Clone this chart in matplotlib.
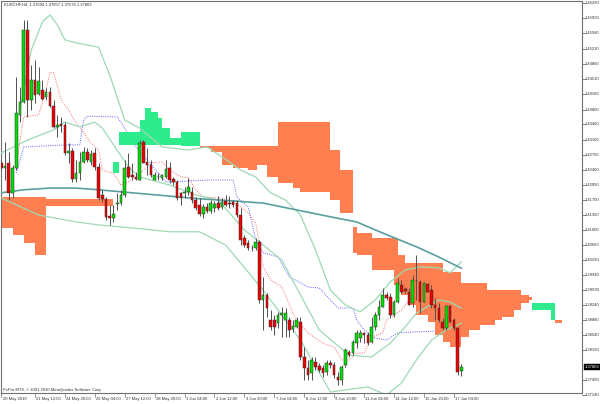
import matplotlib
matplotlib.use('Agg')
import matplotlib.pyplot as plt
import matplotlib.transforms as mtransforms

symbol_text = "EURCHF,H4  1.37694 1.37857 1.37576 1.37803"
copyright_text = "PxPro MT4, \u00a9 2001-2010 MetaQuotes Software Corp."
last_price = 1.37803
last_price_text = "1.37803"

opens = [1.4256, 1.4244, 1.4256, 1.4186, 1.4244, 1.4368, 1.4398, 1.4566, 1.4403, 1.4449,
         1.4417, 1.4426, 1.4410, 1.4421, 1.4389, 1.4340, 1.4347, 1.4344, 1.4279, 1.4284,
         1.4218, 1.4232, 1.4258, 1.4281, 1.4258, 1.4279, 1.4246, 1.4181, 1.4172, 1.4132,
         1.4127, 1.4160, 1.4162, 1.4181, 1.4246, 1.4228, 1.4223, 1.4216, 1.4305, 1.4258,
         1.4251, 1.4216, 1.4223, 1.4221, 1.4223, 1.4244, 1.4218, 1.4211, 1.4186, 1.4186,
         1.4188, 1.4188, 1.4169, 1.4158, 1.4137, 1.4153, 1.4144, 1.4151, 1.4162, 1.4153,
         1.4167, 1.4162, 1.4165, 1.4162, 1.4134, 1.4081, 1.4069, 1.4057, 1.4057, 1.4071,
         1.3936, 1.3948, 1.3889, 1.3889, 1.3882, 1.3901, 1.3889, 1.3889, 1.3868, 1.3873,
         1.3884, 1.3803, 1.3777, 1.3765, 1.3791, 1.3782, 1.3777, 1.3768, 1.3789, 1.3784,
         1.3756, 1.3749, 1.3784, 1.3814, 1.3812, 1.3835, 1.3847, 1.3859, 1.3854, 1.3838,
         1.3873, 1.3901, 1.3919, 1.3948, 1.3943, 1.3901, 1.3931, 1.3971, 1.3961, 1.3955,
         1.3929, 1.3980, 1.3978, 1.3931, 1.3973, 1.3959, 1.3924, 1.3917, 1.3884, 1.3870,
         1.3922, 1.3889, 1.3870, 1.37694]
highs = [1.4263, 1.4305, 1.4281, 1.4251, 1.4456, 1.4433, 1.4589, 1.4589, 1.4484, 1.4496,
         1.4480, 1.4449, 1.4431, 1.4433, 1.4403, 1.4368, 1.4363, 1.4351, 1.4302, 1.4291,
         1.4263, 1.4281, 1.4293, 1.4291, 1.4286, 1.4291, 1.4256, 1.4193, 1.4176, 1.4158,
         1.4158, 1.4186, 1.4193, 1.4263, 1.4279, 1.4256, 1.4235, 1.4309, 1.4309, 1.4291,
         1.4263, 1.4235, 1.4232, 1.4230, 1.4263, 1.4258, 1.4223, 1.4216, 1.4188, 1.4200,
         1.4221, 1.4200, 1.4176, 1.4174, 1.4160, 1.4162, 1.4169, 1.4167, 1.4179, 1.4174,
         1.4181, 1.4179, 1.4169, 1.4169, 1.4151, 1.4088, 1.4076, 1.4064, 1.4081, 1.4076,
         1.3990, 1.3952, 1.3912, 1.3901, 1.3908, 1.3919, 1.3917, 1.3896, 1.3889, 1.3896,
         1.3896, 1.3826, 1.3796, 1.3803, 1.3803, 1.3789, 1.3784, 1.3796, 1.3796, 1.3791,
         1.3768, 1.3784, 1.3824, 1.3819, 1.3842, 1.3866, 1.3866, 1.3861, 1.3861, 1.3896,
         1.3908, 1.3936, 1.3964, 1.3955, 1.3952, 1.3936, 1.3987, 1.3983, 1.3966, 1.3964,
         1.3994, 1.4041, 1.3983, 1.3978, 1.3976, 1.3971, 1.3940, 1.3929, 1.3894, 1.3924,
         1.3924, 1.3894, 1.3873, 1.37857]
lows = [1.4239, 1.4216, 1.4169, 1.4174, 1.4239, 1.4351, 1.4396, 1.4363, 1.4379, 1.4396,
        1.4414, 1.4403, 1.4403, 1.4386, 1.4337, 1.4316, 1.4328, 1.4274, 1.4256, 1.4211,
        1.4211, 1.4216, 1.4256, 1.4258, 1.4251, 1.4239, 1.4169, 1.4165, 1.4123, 1.4111,
        1.4118, 1.4146, 1.4158, 1.4176, 1.4221, 1.4216, 1.4216, 1.4216, 1.4256, 1.4228,
        1.4223, 1.4216, 1.4216, 1.4216, 1.4221, 1.4209, 1.4204, 1.4169, 1.4158, 1.4174,
        1.4181, 1.4162, 1.4146, 1.4132, 1.4127, 1.4139, 1.4139, 1.4141, 1.4146, 1.4148,
        1.4155, 1.4151, 1.4153, 1.4130, 1.4064, 1.4060, 1.4053, 1.4050, 1.4053, 1.3929,
        1.3866, 1.3896, 1.3866, 1.3854, 1.3870, 1.3849, 1.3849, 1.3849, 1.3861, 1.3870,
        1.3796, 1.3749, 1.3749, 1.3749, 1.3772, 1.3768, 1.3756, 1.3761, 1.3777, 1.3754,
        1.3737, 1.3737, 1.3779, 1.3803, 1.3807, 1.3824, 1.3838, 1.3835, 1.3831, 1.3835,
        1.3866, 1.3889, 1.3919, 1.3936, 1.3894, 1.3896, 1.3929, 1.3952, 1.3952, 1.3924,
        1.3919, 1.3936, 1.3905, 1.3931, 1.3955, 1.3917, 1.3889, 1.3884, 1.3866, 1.3866,
        1.3882, 1.3866, 1.3761, 1.37576]
closes = [1.4244, 1.4249, 1.4186, 1.4244, 1.4372, 1.4398, 1.4566, 1.4403, 1.4449, 1.4414,
          1.4447, 1.4405, 1.4421, 1.4389, 1.4340, 1.4344, 1.4342, 1.4279, 1.4284, 1.4218,
          1.4232, 1.4258, 1.4281, 1.4263, 1.4277, 1.4246, 1.4174, 1.4172, 1.4130, 1.4127,
          1.4137, 1.4162, 1.4181, 1.4244, 1.4223, 1.4223, 1.4218, 1.4302, 1.4256, 1.4251,
          1.4228, 1.4228, 1.4223, 1.4228, 1.4242, 1.4216, 1.4211, 1.4174, 1.4174, 1.4188,
          1.4200, 1.4169, 1.4151, 1.4137, 1.4153, 1.4144, 1.4162, 1.4160, 1.4151, 1.4165,
          1.4158, 1.4160, 1.4158, 1.4134, 1.4076, 1.4064, 1.4057, 1.4058, 1.4071, 1.3936,
          1.3948, 1.3917, 1.3873, 1.3873, 1.3901, 1.3905, 1.3905, 1.3866, 1.3875, 1.3889,
          1.3803, 1.3777, 1.3761, 1.3796, 1.3779, 1.3772, 1.3765, 1.3789, 1.3784, 1.3761,
          1.3749, 1.3779, 1.3819, 1.3807, 1.3838, 1.3859, 1.3859, 1.3854, 1.3835, 1.3873,
          1.3901, 1.3919, 1.3948, 1.3940, 1.3901, 1.3931, 1.3976, 1.3955, 1.3957, 1.3924,
          1.3983, 1.3981, 1.3931, 1.3976, 1.3955, 1.3924, 1.3917, 1.3889, 1.3870, 1.3922,
          1.3884, 1.3870, 1.3768, 1.37803]

date_label_bars = [0, 9, 17, 25, 33, 41, 49, 57, 65, 73, 81, 89, 97, 105, 113, 121]
date_labels = ["20 May 2010", "21 May 12:00", "24 May 20:00", "26 May 04:00",
               "27 May 12:00", "28 May 20:00", "1 Jun 04:00", "2 Jun 12:00",
               "3 Jun 20:00", "7 Jun 04:00", "8 Jun 12:00", "9 Jun 20:00",
               "11 Jun 04:00", "14 Jun 12:00", "15 Jun 20:00", "17 Jun 04:00"]

# the 1.37840 level is covered by the last-price box, as in the reference
price_labels = ["1.46290", "1.45930", "1.45580", "1.45210", "1.44860", "1.44510",
                "1.44160", "1.43800", "1.43460", "1.43100", "1.42750", "1.42400",
                "1.42050", "1.41700", "1.41350", "1.41000", "1.40650", "1.40290",
                "1.39940", "1.39590", "1.39240", "1.38880", "1.38540", "1.38190",
                "1.37490", "1.37140"]

# long moving average (teal)
ma_bars = [0, 6, 13, 20, 26, 35, 44, 53, 62, 70, 79, 88, 95, 102, 111, 117, 123]
ma_vals = [1.4186, 1.4193, 1.4197, 1.4197, 1.4193, 1.4186, 1.4179, 1.4172, 1.4167,
           1.4162, 1.4146, 1.4130, 1.4118, 1.4092, 1.4060, 1.4036, 1.4010]

# bands (light green)
upper_bars = [5, 8, 11, 13, 15, 17, 20, 26, 29, 33, 37, 43, 50, 55, 59, 64, 68, 72,
              76, 80, 84, 88, 92, 96, 100, 104, 108, 112, 117, 120, 123]
upper_vals = [1.4379, 1.4519, 1.4585, 1.4601, 1.4578, 1.4543, 1.4536, 1.4526, 1.4461,
              1.4356, 1.4337, 1.4293, 1.4286, 1.4293, 1.4270, 1.4239, 1.4223, 1.4186,
              1.4169, 1.4134, 1.4053, 1.3959, 1.3924, 1.3908, 1.3936, 1.3978, 1.4006,
              1.4013, 1.4011, 1.3999, 1.4025]
middle_bars = [0, 7, 14, 17, 21, 25, 27, 34, 37, 45, 52, 58, 65, 75, 85, 93, 99, 104,
               108, 111, 117, 120, 123]
middle_vals = [1.4279, 1.4309, 1.4333, 1.4351, 1.4340, 1.4351, 1.4337, 1.4246, 1.4223,
               1.4204, 1.4181, 1.4169, 1.4099, 1.4029, 1.3866, 1.3807, 1.3803, 1.3835,
               1.3873, 1.3905, 1.3936, 1.3931, 1.3917]
lower_bars = [0, 10, 20, 26, 35, 45, 53, 60, 70, 80, 88, 98, 103, 107, 111, 115, 119, 123]
lower_vals = [1.4174, 1.4134, 1.4118, 1.4111, 1.4104, 1.4095, 1.4095, 1.4064, 1.3959,
              1.3842, 1.3721, 1.3733, 1.3714, 1.3742, 1.3796, 1.3842, 1.3866, 1.3882]

# Ichimoku tenkan (red dotted) and kijun (blue dotted)
tenkan_bars = [4, 5, 6, 10, 12, 13, 14, 16, 18, 20, 22, 24, 26, 27, 30, 32, 36, 40, 43,
               45, 48, 50, 52, 54, 58, 61, 64, 66, 68, 69, 70, 72, 75, 78, 79, 82, 86,
               89, 91, 93, 95, 97, 99, 102, 103, 107, 110, 115, 120, 123]
tenkan_vals = [1.4239, 1.4309, 1.4363, 1.4368, 1.4426, 1.4468, 1.4466, 1.4403, 1.4379,
               1.4349, 1.4326, 1.4302, 1.4286, 1.4239, 1.4232, 1.4204, 1.4221, 1.4256,
               1.4258, 1.4239, 1.4223, 1.4221, 1.4193, 1.4176, 1.4174, 1.4169, 1.4153,
               1.4139, 1.4116, 1.4069, 1.4013, 1.3983, 1.3966, 1.3905, 1.3889, 1.3859,
               1.3835, 1.3826, 1.3796, 1.3796, 1.3812, 1.3812, 1.3849, 1.3859, 1.3889,
               1.3912, 1.3948, 1.3959, 1.3936, 1.3912]
kijun_bars = [4, 6, 18, 21, 22, 23, 31, 32, 36, 44, 56, 62, 63, 66, 67, 68, 70, 74, 77,
              80, 82, 85, 88, 90, 94, 95, 97, 99, 103, 106, 110, 123]
kijun_vals = [1.4232, 1.4293, 1.4298, 1.4298, 1.4356, 1.4365, 1.4363, 1.4351, 1.4293,
              1.4211, 1.4216, 1.4216, 1.4176, 1.4153, 1.4116, 1.4076, 1.4046, 1.4036,
              1.3990, 1.3976, 1.3966, 1.3964, 1.3936, 1.3917, 1.3917, 1.3889, 1.3866,
              1.3849, 1.3842, 1.3859, 1.3861, 1.3866]

# Ichimoku cloud pieces: start bar, end bar, top, bottom, kind (o = bearish, g = bullish)
cloud_start = [-0.5, 3, 6, 9, 12, 30, 31.5, 37, 38.5, 40, 42, 43, 45, 48,
               53, 56, 59, 62, 66, 68.5, 71, 74, 78, 80, 88, 90.5,
               94, 95, 99, 105, 106, 107, 108, 109, 111, 114, 116, 118, 120, 123,
               125, 128, 130, 132, 134, 137, 139, 141, 142, 147, 148]
cloud_end = [3, 6, 9, 12, 30, 31.5, 37, 38.5, 40, 42, 43, 45, 48, 53,
             56, 59, 62, 66, 68.5, 71, 74, 78, 80, 88, 90.5, 94,
             95, 99, 105, 106, 107, 108, 109, 111, 114, 116, 118, 120, 123, 125,
             128, 130, 132, 134, 137, 139, 141, 142, 147, 148, 150]
cloud_top = [1.4176, 1.4176, 1.4176, 1.4176, 1.4172, 1.4258, 1.4328, 1.4356, 1.4384, 1.4375,
             1.4361, 1.4337, 1.4314, 1.4328,
             1.4295, 1.4295, 1.4295, 1.4295, 1.4295, 1.4295, 1.4295, 1.4351, 1.4351, 1.4351,
             1.4286, 1.4239,
             1.4106, 1.4092, 1.4081, 1.4081, 1.4041, 1.4041, 1.4022, 1.4022, 1.4022, 1.4022,
             1.4022, 1.4001, 1.4001, 1.3976, 1.3976, 1.3976, 1.3959, 1.3959, 1.3959, 1.3959,
             1.3948, 1.3943, 1.3929, 1.3929, 1.3889]
cloud_bot = [1.4104, 1.4088, 1.4069, 1.4041, 1.4155, 1.4232, 1.4298, 1.4298, 1.4298, 1.4298,
             1.4298, 1.4298, 1.4298, 1.4295,
             1.4291, 1.4281, 1.4251, 1.4244, 1.4239, 1.4251, 1.4223, 1.4209, 1.4197, 1.4188,
             1.4169, 1.4139,
             1.4046, 1.4041, 1.4006, 1.3971, 1.3971, 1.3948, 1.3948, 1.3924, 1.3901, 1.3884,
             1.3854, 1.3838, 1.3826, 1.3849, 1.3866, 1.3877, 1.3877, 1.3889, 1.3896, 1.3912,
             1.3929, 1.3936, 1.3912, 1.3889, 1.3882]
cloud_kind = ['o', 'o', 'o', 'o', 'o', 'g', 'g', 'g', 'g', 'g', 'g', 'g', 'g', 'g',
              'o', 'o', 'o', 'o', 'o', 'o', 'o', 'o', 'o', 'o', 'o', 'o',
              'o', 'o', 'o', 'o', 'o', 'o', 'o', 'o', 'o', 'o', 'o', 'o', 'o', 'o',
              'o', 'o', 'o', 'o', 'o', 'o', 'o', 'o', 'g', 'g', 'o']

ORANGE = '#FF7F50'
GREEN_CLOUD = '#2EEB8C'
UP = '#00DD00'
DOWN = '#EE0000'
BAND = '#9ED9B4'
TEAL = '#5A9FA0'
FONT = ['Liberation Sans', 'DejaVu Sans']
FS = 3.0

fig = plt.figure(figsize=(6.0, 4.04), dpi=100)
fig.patch.set_facecolor('white')
ax = fig.add_axes([1 / 600, 11 / 404, 581 / 600, 392 / 404])
ax.set_facecolor('white')
ax.set_xlim(-0.08, 155.27)
ax.set_ylim(1.37187, 1.46337)
ax.set_xticks([])
ax.set_yticks([])
for s in ax.spines.values():
    s.set_color('#707070')
    s.set_linewidth(0.8)

# tenkan / kijun (under the cloud)
ax.plot(tenkan_bars, tenkan_vals, color='#FF7070', lw=0.7, ls=(0, (1, 1.3)), zorder=1)
ax.plot(kijun_bars, kijun_vals, color='#6060FF', lw=0.7, ls=(0, (1, 1.3)), zorder=1)

# cloud
for s0, s1, t, b, k in zip(cloud_start, cloud_end, cloud_top, cloud_bot, cloud_kind):
    ax.bar(s0, t - b, bottom=b, width=s1 - s0, align='edge',
           color=ORANGE if k == 'o' else GREEN_CLOUD, linewidth=0, zorder=2)

# bands and moving average
ax.plot(upper_bars, upper_vals, color=BAND, lw=0.9, zorder=3)
ax.plot(middle_bars, middle_vals, color=BAND, lw=0.9, zorder=3)
ax.plot(lower_bars, lower_vals, color=BAND, lw=0.9, zorder=3)
ax.plot(ma_bars, ma_vals, color=TEAL, lw=1.2, zorder=3)

# candles
idx = list(range(len(closes)))
ax.vlines(idx, lows, highs, color='#505050', lw=0.7, zorder=4)
for i, (o, c) in enumerate(zip(opens, closes)):
    lo, hi = min(o, c), max(o, c)
    h = max(hi - lo, 0.00005)
    col = UP if c >= o else DOWN
    ax.bar(i, h, bottom=lo, width=0.7, color=col, edgecolor='#303030',
           linewidth=0.35, zorder=5)

# right price scale
tr = mtransforms.blended_transform_factory(ax.transAxes, ax.transData)
for lab in price_labels:
    v = float(lab)
    ax.plot([1.0, 1.0045], [v, v], transform=tr, color='#707070', lw=0.6,
            clip_on=False)
    ax.text(1.0055, v, lab, transform=tr, fontsize=FS, family=FONT, color='#303030',
            va='center', ha='left', clip_on=False)
ax.text(1.0050, last_price, last_price_text, transform=tr, fontsize=FS, family=FONT,
        color='white', va='center', ha='left', clip_on=False, zorder=10,
        bbox=dict(boxstyle='square,pad=0.25', fc='black', ec='black', lw=0.3))

# date labels
trx = mtransforms.blended_transform_factory(ax.transData, ax.transAxes)
for b, lab in zip(date_label_bars, date_labels):
    ax.plot([b, b], [0, -0.011], transform=trx, color='#707070', lw=0.5,
            clip_on=False)
    ax.text(b + 0.35, -0.016, lab, transform=trx, fontsize=FS, family=FONT,
            color='#303030', va='center', ha='left', clip_on=False)

ax.text(0.006, 0.991, symbol_text, transform=ax.transAxes, fontsize=FS, family=FONT,
        color='#303030', va='center', ha='left')
ax.text(0.0035, 0.0075, copyright_text, transform=ax.transAxes, fontsize=FS, family=FONT,
        color='#303030', va='center', ha='left')

fig.savefig('out.png', dpi=100, facecolor='white')
